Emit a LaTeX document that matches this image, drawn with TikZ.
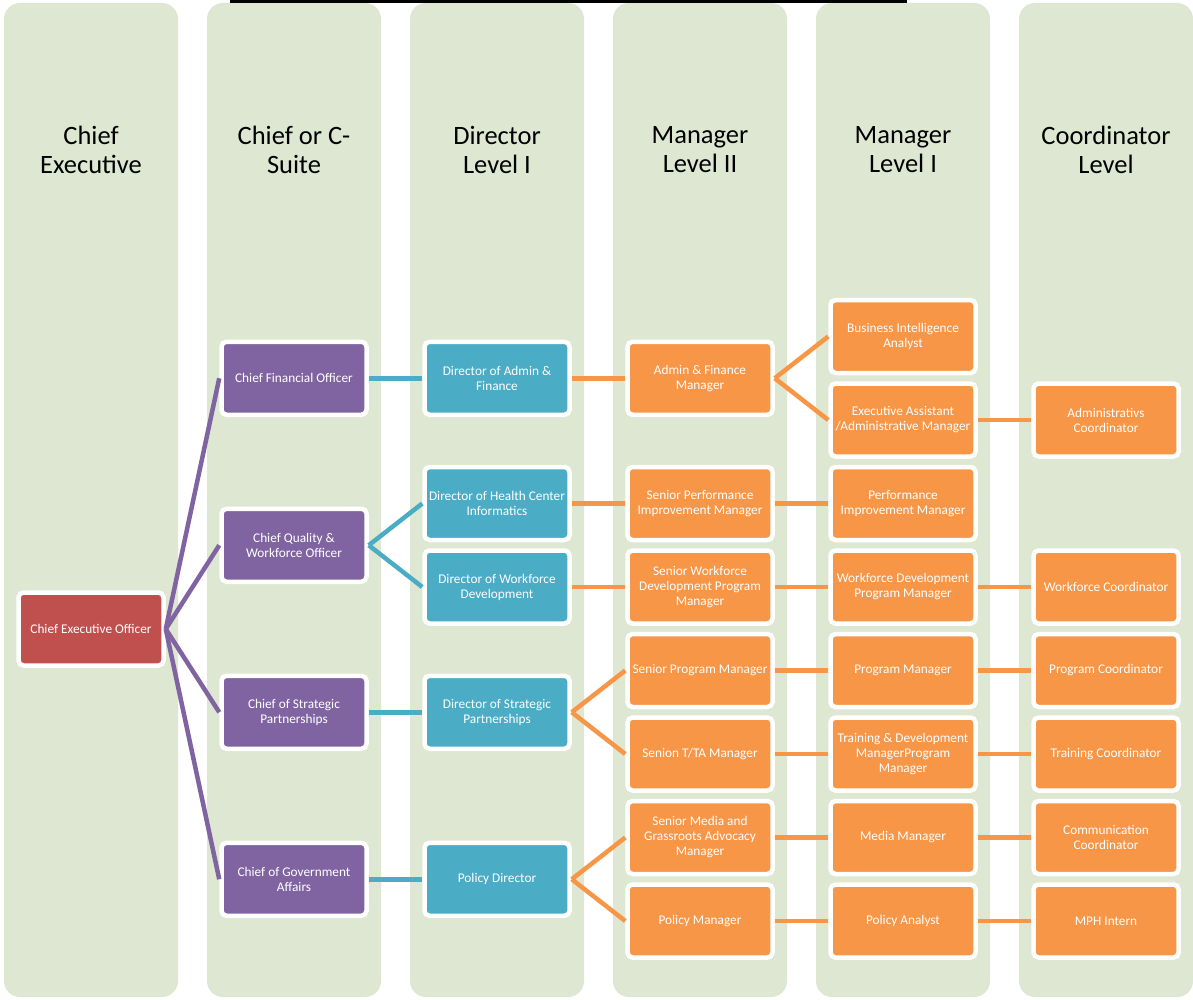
\documentclass[tikz,border=0pt]{standalone}
\usepackage{fontspec}
\setmainfont{Carlito}
\definecolor{colbg}{HTML}{DEE7D1}
\definecolor{ceored}{HTML}{C0504D}
\definecolor{chiefpurple}{HTML}{8064A2}
\definecolor{dirblue}{HTML}{4BACC6}
\definecolor{mgrorange}{HTML}{F79646}
\tikzset{
  colbox/.style={fill=colbg, draw=none, rounded corners=16pt},
  header/.style={align=center, font=\fontsize{26.5}{29}\selectfont, text=black},
  card/.style={rectangle, rounded corners=5pt, draw=white, line width=4.5pt,
    minimum width=145pt, minimum height=73pt, inner sep=0pt, align=center,
    text=white, font=\fontsize{13.3}{15}\selectfont},
  ceo/.style={card, fill=ceored},
  chief/.style={card, fill=chiefpurple},
  dir/.style={card, fill=dirblue},
  mgr/.style={card, fill=mgrorange},
  link/.style={line width=4.5pt},
  plink/.style={link, draw=chiefpurple},
  blink/.style={link, draw=dirblue},
  olink/.style={link, draw=mgrorange},
}
\begin{document}
\begin{tikzpicture}[x=1pt,y=-1pt]
\useasboundingbox (0,0) rectangle (1193,1000);
% columns
\foreach \i in {0,...,5} {
  \fill[colbg, rounded corners=16pt] ({4+203*\i},3) rectangle ({178+203*\i},997);
}
\fill[black] (230,0) rectangle (907,3.5);
% headers
\node[header] (h1) at (91,150) {Chief\\Executive};
\node[header] (h2) at (294,150) {Chief or C-\\Suite};
\node[header] (h3) at (497,150) {Director\\Level I};
\node[header] (h4) at (700,150) {Manager\\Level II};
\node[header] (h5) at (903,150) {Manager\\Level I};
\node[header] (h6) at (1106,150) {Coordinator\\Level};
% rows: r(k)=336.5+83.5k
% column 1
\node[ceo] (ceo) at (91,629) {Chief Executive Officer};
% column 2
\node[chief] (cfo) at (294,378.25) {Chief Financial Officer};
\node[chief] (cqw) at (294,545.25) {Chief Quality \&\\Workforce Officer};
\node[chief] (csp) at (294,712.25) {Chief of Strategic\\Partnerships};
\node[chief] (cga) at (294,879.25) {Chief of Government\\Affairs};
% column 3
\node[dir] (daf) at (497,378.25) {Director of Admin \&\\Finance};
\node[dir] (dhc) at (497,503.5) {Director of Health Center\\Informatics};
\node[dir] (dwd) at (497,587) {Director of Workforce\\Development};
\node[dir] (dsp) at (497,712.25) {Director of Strategic\\Partnerships};
\node[dir] (dpo) at (497,879.25) {Policy Director};
% column 4
\node[mgr] (afm) at (700,378.25) {Admin \& Finance\\Manager};
\node[mgr] (spi) at (700,503.5) {Senior Performance\\Improvement Manager};
\node[mgr] (swd) at (700,587) {Senior Workforce\\Development Program\\Manager};
\node[mgr] (spm) at (700,670.5) {Senior Program Manager};
\node[mgr] (stt) at (700,754) {Senion T/TA Manager};
\node[mgr] (smg) at (700,837.5) {Senior Media and\\Grassroots Advocacy\\Manager};
\node[mgr] (pmg) at (700,921) {Policy Manager};
% column 5
\node[mgr] (bia) at (903,336.5) {Business Intelligence\\Analyst};
\node[mgr] (eaa) at (903,420) {Executive Assistant\\/Administrative Manager};
\node[mgr] (pim) at (903,503.5) {Performance\\Improvement Manager};
\node[mgr] (wdp) at (903,587) {Workforce Development\\Program Manager};
\node[mgr] (prm) at (903,670.5) {Program Manager};
\node[mgr] (tdm) at (903,754) {Training \& Development\\ManagerProgram\\Manager};
\node[mgr] (mem) at (903,837.5) {Media Manager};
\node[mgr] (pan) at (903,921) {Policy Analyst};
% column 6
\node[mgr] (adc) at (1106,420) {Administrativs\\Coordinator};
\node[mgr] (wfc) at (1106,587) {Workforce Coordinator};
\node[mgr] (prc) at (1106,670.5) {Program Coordinator};
\node[mgr] (trc) at (1106,754) {Training Coordinator};
\node[mgr] (coc) at (1106,837.5) {Communication\\Coordinator};
\node[mgr] (mph) at (1106,921) {MPH Intern};
% connectors
\foreach \t in {cfo,cqw,csp,cga} \draw[plink] (ceo.east) -- (\t.west);
\draw[blink] (cfo.east) -- (daf.west);
\draw[blink] (cqw.east) -- (dhc.west);
\draw[blink] (cqw.east) -- (dwd.west);
\draw[blink] (csp.east) -- (dsp.west);
\draw[blink] (cga.east) -- (dpo.west);
\draw[olink] (daf.east) -- (afm.west);
\draw[olink] (dhc.east) -- (spi.west);
\draw[olink] (dwd.east) -- (swd.west);
\draw[olink] (dsp.east) -- (spm.west);
\draw[olink] (dsp.east) -- (stt.west);
\draw[olink] (dpo.east) -- (smg.west);
\draw[olink] (dpo.east) -- (pmg.west);
\draw[olink] (afm.east) -- (bia.west);
\draw[olink] (afm.east) -- (eaa.west);
\draw[olink] (spi.east) -- (pim.west);
\draw[olink] (swd.east) -- (wdp.west);
\draw[olink] (spm.east) -- (prm.west);
\draw[olink] (stt.east) -- (tdm.west);
\draw[olink] (smg.east) -- (mem.west);
\draw[olink] (pmg.east) -- (pan.west);
\draw[olink] (eaa.east) -- (adc.west);
\draw[olink] (wdp.east) -- (wfc.west);
\draw[olink] (prm.east) -- (prc.west);
\draw[olink] (tdm.east) -- (trc.west);
\draw[olink] (mem.east) -- (coc.west);
\draw[olink] (pan.east) -- (mph.west);
\end{tikzpicture}
\end{document}
